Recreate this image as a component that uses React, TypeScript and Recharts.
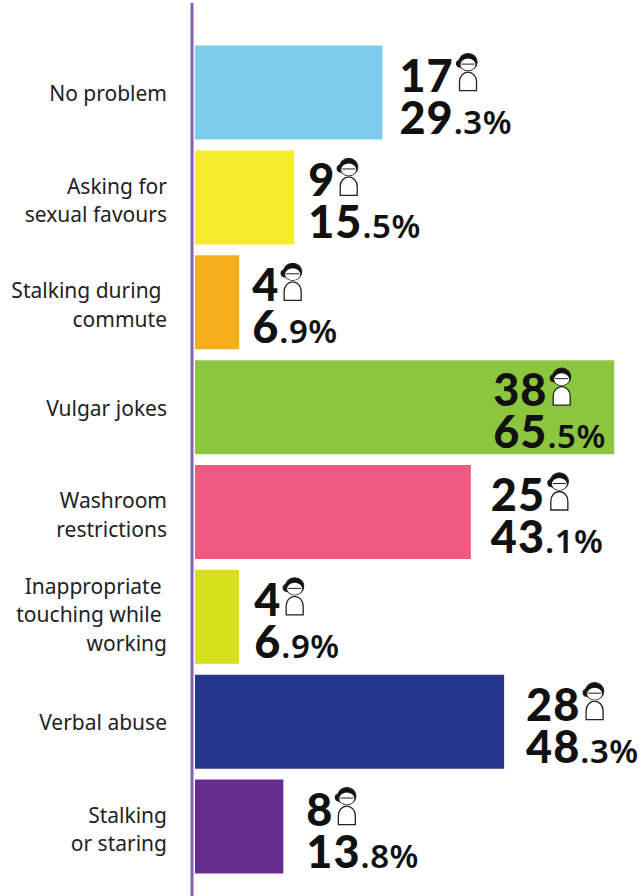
import { BarChart, Bar, XAxis, YAxis, Cell, LabelList } from "recharts";

const categories = [
  "No problem",
  "Asking for\nsexual favours",
  "Stalking during\u00A0\ncommute",
  "Vulgar jokes",
  "Washroom\nrestrictions",
  "Inappropriate\u00A0\ntouching while\u00A0\nworking",
  "Verbal abuse",
  "Stalking\nor staring",
];
const counts = [17, 9, 4, 38, 25, 4, 28, 8];
const percents = [29.3, 15.5, 6.9, 65.5, 43.1, 6.9, 48.3, 13.8];
const colors = ["#7ccbec", "#f6ec2e", "#f6ae1c", "#8cc63f", "#f05a82", "#d6e01c", "#26368c", "#652d8e"];

// how far each value label sits from the end of its bar
const labelGaps = [17, 14, 13, -121, 20, 15, 22, 23];

const data = categories.map((name, i) => ({ name, percent: percents[i] }));

const FONT = "'Noto Sans', sans-serif";
const NUMBER_FONT = "Lato, 'Noto Sans', sans-serif";

function PersonIcon({ x, y }: { x: number; y: number }) {
  return (
    <g transform={`translate(${x},${y})`} stroke="#222" strokeWidth={1.3}>
      <path d="M4 37 V28 a8.5 9.5 0 0 1 17 0 V37 Z" fill="#fff" />
      <circle cx={4.5} cy={10} r={3.5} fill="#111" />
      <ellipse cx={12.5} cy={8.5} rx={9} ry={8.5} fill="#111" />
      <ellipse cx={12.5} cy={11} rx={7.5} ry={6} fill="#fff" stroke="none" />
      <path d="M6 10.5 H19" fill="none" strokeWidth={1} />
    </g>
  );
}

function ValueLabel(props: any) {
  const { x, y, width, index } = props;
  const left = x + width + labelGaps[index];
  const count = counts[index];
  const [whole, decimal] = percents[index].toFixed(1).split(".");
  const iconX = left + (count > 9 ? 56 : 28);
  return (
    <g fontFamily={NUMBER_FONT} fill="#111">
      <text x={left} y={y + 46} fontSize={45} fontWeight={900} letterSpacing={1}>
        {count}
      </text>
      <PersonIcon x={iconX} y={y + 8} />
      <text x={left} y={y + 88} fontSize={45} fontWeight={900} letterSpacing={1}>
        {whole}
        <tspan fontSize={33} fontWeight={600} fontFamily={FONT} letterSpacing={0.5}>
          .{decimal}%
        </tspan>
      </text>
    </g>
  );
}

function CategoryTick(props: any) {
  const { y, payload } = props;
  const lines = String(payload.value).split("\n");
  const lineHeight = 28.5;
  // two-line labels sit a little low in their row, three-line ones a little high
  const nudge = lines.length === 2 ? 2 : lines.length === 3 ? -3 : 0;
  const start = y + nudge - ((lines.length - 1) * lineHeight) / 2;
  return (
    <text fontFamily={FONT} fontSize={21} fill="#222" textAnchor="end" dominantBaseline="central">
      {lines.map((line, i) => (
        <tspan key={i} x={167} y={start + i * lineHeight}>
          {line}
        </tspan>
      ))}
    </text>
  );
}

export default function App() {
  return (
    <div style={{ position: "absolute", left: 0, top: 0, width: 643, height: 896 }}>
      <BarChart
        width={643}
        height={896}
        data={data}
        layout="vertical"
        margin={{ top: 3, right: 0, bottom: 0, left: 0 }}
      >
        <XAxis type="number" domain={[0, 70]} hide padding={{ left: 3, right: 0 }} />
        <YAxis
          type="category"
          dataKey="name"
          width={192}
          interval={0}
          tickLine={false}
          tick={<CategoryTick />}
          axisLine={{ stroke: "#8560b0", strokeWidth: 3 }}
          padding={{ top: 37.6, bottom: 16.6 }}
        />
        <Bar dataKey="percent" barSize={94} isAnimationActive={false}>
          {data.map((_, i) => (
            <Cell key={i} fill={colors[i]} />
          ))}
          <LabelList dataKey="percent" content={<ValueLabel />} />
        </Bar>
      </BarChart>
    </div>
  );
}
